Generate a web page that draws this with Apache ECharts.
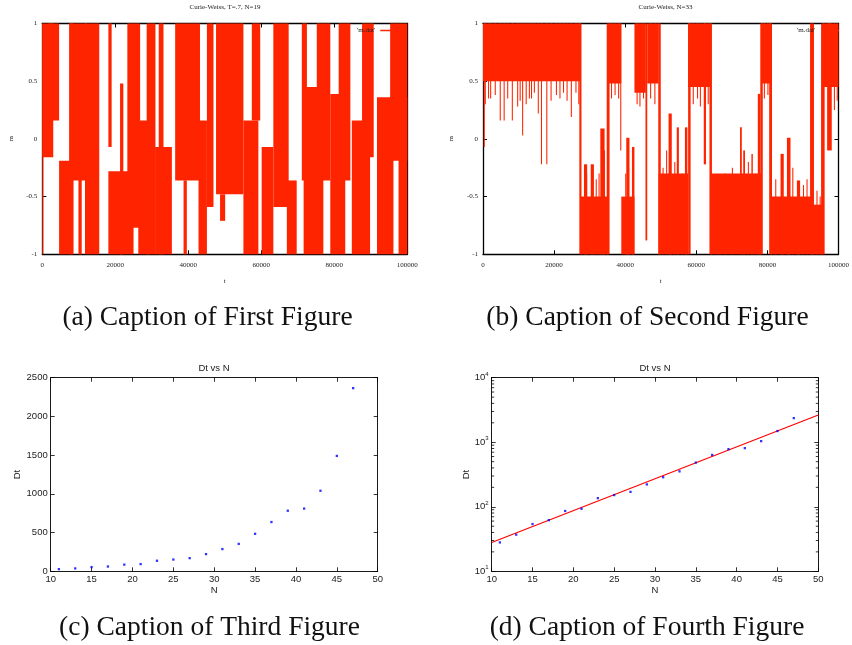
<!DOCTYPE html>
<html><head><meta charset="utf-8">
<script src="https://cdn.jsdelivr.net/npm/echarts@6/dist/echarts.min.js"></script>
<style>html,body{margin:0;padding:0;background:#fff}#c{width:852px;height:645px}</style>
</head><body><div id="c"></div>
<script>
// ---- (a) Curie-Weiss T=.7 N=19 : red blocks [t0, t1, mLow, mHigh]
const aStart = [0,0,1700,4600,7400,7400,9900,11700,18100,18100,21300,23300,26300,28600,31900,30900,36400,38700,42800,45100,47600,48700,55100,57400,60100,63300,67000,71100,71600,75200,78900,81200,84800,87600,91700,95300,97600];
const aEnd   = [300,3000,4600,8500,12200,8500,10800,15600,19000,25000,22200,26800,29500,31000,33200,35500,43200,39600,45100,46900,55100,50100,59200,59700,63300,67500,69700,72500,77000,78900,83000,84400,89800,90800,96200,100000,100000];
const aLow   = [-1,-0.16,0.16,-1,-0.36,-1,-1,-1,-0.07,-1,-1,-0.77,-1,-1,-1,-1,-0.36,-1,-1,-0.59,-0.48,-0.71,-1,0.16,-1,-0.59,-1,-0.36,-1,-0.36,-1,-0.36,-1,-0.16,-1,-0.19,-1];
const aHigh  = [1,1,1,-0.19,1,1,-0.25,1,1,-0.28,0.48,1,0.16,1,1,-0.07,1,-0.36,0.16,1,1,-0.48,0.16,1,-0.07,1,-0.36,1,0.45,1,0.39,1,0.16,1,0.36,1,0.36];

// ---- (b) Curie-Weiss N=33 : bands and transitions
const bStart = [0,27100,27500,28400,30300,33000,34800,35300,38900,40300,41900,42600,45700,46200,49300,49400,52200,54500,56800,57700,57700,62100,63700,64100,72300,73200,75500,77300,78000,78200,80500,81000,83700,85500,88300,92000,92400,95100,95600,96800];
const bEnd   = [27500,27700,35300,29300,31200,34200,35600,38900,42600,41200,42600,45800,46200,49400,50000,57700,53100,55100,57500,58400,64100,62700,64400,78200,72800,73700,75900,78000,78700,81000,81300,92400,84600,86500,89200,93100,95600,96100,100000,98100];
const bLow   = [0.5,-1,-1,-1,-1,-1,-1,0.48,-1,-1,-1,0.4,-0.88,0.48,-1,-1,-1,-1,-1,-1,0.45,-0.22,-1,-1,-1,-1,-1,-1,-1,0.48,-1,-1,-1,-1,-1,-1,-1,-1,0.45,-0.1];
const bHigh  = [1,1,-0.5,-0.22,-0.22,0.09,1,1,-0.5,0.01,-0.07,1,1,1,1,-0.3,0.22,0.1,0.1,1,1,1,1,-0.3,0.1,-0.1,-0.13,0.39,1,1,1,-0.5,-0.13,0.01,-0.36,1,-0.57,1,1,1];
// ---- (b) thin excursions (spike time, spike low, spike high)
const bSpikeT  = [200,500,1400,2000,3300,4700,5800,6800,8100,9600,10300,11000,12000,12900,13500,14300,15400,16300,17800,19000,20500,21500,22500,23500,24700,26000,26800,
                  36000,37000,38000,38600, 43200,44000,45000, 47000,48200, 59000,60200,61000,62400,63200, 79000,80000, 97300,98700,99500,
                  29000,31700,32500,34000,40000,40800,50500,51500,53800,56000,66000,68000,70000,74500,76500,82200,87000,90000,91000,93800,94700];
const bSpikeLo = [-0.07,0.3,0.35,0.35,0.38,0.16,0.16,0.35,0.16,0.28,0.33,0.03,0.3,0.35,0.35,0.4,0.22,-0.22,-0.22,0.33,0.38,0.35,0.4,0.33,0.19,0.4,0.3,
                  0.35,0.38,0.35,-0.1, 0.3,0.28,0.35, 0.35,0.3, 0.3,0.35,0.28,-0.22,0.3, 0.35,0.38, 0.3,0.25,0.33,
                  -1,-1,-1,-1,-1,-1,-1,-1,-1,-1,-1,-1,-1,-1,-1,-1,-1,-1,-1,-1,-1];
const bSpikeHi = [1,1,1,1,1,1,1,1,1,1,1,1,1,1,1,1,1,1,1,1,1,1,1,1,1,1,1,
                  1,1,1,1, 1,1,1, 1,1, 1,1,1,1,1, 1,1, 1,1,1,
                  -0.3,-0.35,-0.3,-0.1,-0.3,-0.25,-0.25,-0.1,-0.2,-0.3,-0.35,-0.3,-0.25,-0.2,-0.3,-0.35,-0.25,-0.4,-0.35,-0.45,-0.5];

// ---- (c)/(d) Dt vs N
const nVals  = [11,13,15,17,19,21,23,25,27,29,31,33,35,37,39,41,43,45,47];
const dtVals = [28,37,54,62,86,93,136,152,170,222,287,354,484,636,782,810,1040,1490,2365];
const fitN   = [10,50];
const fitDt  = [28,2640];
const logMinorTicks = [20,30,40,50,60,70,80,90,200,300,400,500,600,700,800,900,2000,3000,4000,5000,6000,7000,8000,9000];

const tTicks = {min:0, max:100000, interval:20000};
const mTicks = {min:-1, max:1, interval:0.5};
const nTicks = {min:10, max:50, interval:5};
const dtTicks = {min:0, max:2500, interval:500};

const RED = '#ff2400';
const SPIKE_W = 300;
const chart = echarts.init(document.getElementById('c'), null, {renderer:'canvas'});

const G = [
  {left:42.3, top:23.5, width:365, height:230.8},
  {left:483, top:23.5, width:365, height:230.8},
  {left:50.7, top:377.7, width:327, height:193.6},
  {left:491.7, top:377.7, width:326.6, height:193.6}
];

const gnuLabel = {fontFamily:'Liberation Serif', fontSize:7, color:'#222'};
const matLabel = {fontFamily:'Liberation Sans', fontSize:9.5, color:'#222'};
const plain = function(v){ return String(v); };

function ax(gi, pos, rng, opts){
  const gnu = gi < 2;
  const main = (pos === 'bottom' || pos === 'left');
  const o = Object.assign({
    gridIndex: gi, position: pos, type:'value',
    min: rng.min, max: rng.max, interval: rng.interval,
    axisLine:{show:true, onZero:false, lineStyle:{color:'#000', width: gnu?1.3:0.9}},
    axisTick:{show:true, inside:true, length:4, lineStyle:{color:'#000', width: gnu?1:0.8}},
    axisLabel: main ? Object.assign({show:true, formatter:plain, margin: gnu ? (pos==='bottom'?7:5) : 3, showMinLabel:true, showMaxLabel:true}, gnu?gnuLabel:matLabel) : {show:false},
    splitLine:{show:false}
  }, opts||{});
  return o;
}

function blockRender(color){
  return function(params, api){
    const p0 = api.coord([api.value(0), api.value(3)]);
    const p1 = api.coord([api.value(1), api.value(2)]);
    const cs = params.coordSys;
    const r = echarts.graphic.clipRectByRect({x:p0[0], y:p0[1], width:Math.max(p1[0]-p0[0], 1), height:p1[1]-p0[1]}, {x:cs.x, y:cs.y, width:cs.width, height:cs.height});
    if (!r) return null;
    return {type:'rect', shape:r, style:{fill:color}};
  };
}

function minorRender(params, api){
  const cs = params.coordSys;
  const p = api.coord([api.value(0), api.value(1)]);
  return {type:'group', children:[
    {type:'line', shape:{x1:cs.x, y1:p[1], x2:cs.x+2.5, y2:p[1]}, style:{stroke:'#000', lineWidth:0.8}},
    {type:'line', shape:{x1:cs.x+cs.width-2.5, y1:p[1], x2:cs.x+cs.width, y2:p[1]}, style:{stroke:'#000', lineWidth:0.8}}
  ]};
}

const aData = aStart.map((v,i)=>[v, aEnd[i], aLow[i], aHigh[i]]);
const bData = bStart.map((v,i)=>[v, bEnd[i], bLow[i], bHigh[i]])
  .concat(bSpikeT.map((t,i)=>[t, t + SPIKE_W, bSpikeLo[i], bSpikeHi[i]]));
const cData = nVals.map((n,i)=>[n, dtVals[i]]);
const fitData = fitN.map((n,i)=>[n, fitDt[i]]);
const minorData = logMinorTicks.map(v=>[10, v]);

const gnuName = {fontFamily:'Liberation Serif', fontSize:7, color:'#222'};
const matName = {fontFamily:'Liberation Sans', fontSize:9.5, color:'#222'};

const option = {
  animation:false,
  backgroundColor:'#fff',
  grid: G.map(g=>Object.assign({containLabel:false}, g)),
  legend: [
    {left:357, top:27, align:'right', itemWidth:17, itemHeight:1.5, padding:0, textStyle:{fontFamily:'Liberation Serif', fontSize:7, color:'#222'}, data:[{name:"'m.dat'", icon:'rect'}], selectedMode:false},
    {left:797, top:27, align:'right', itemWidth:17, itemHeight:1.5, padding:0, textStyle:{fontFamily:'Liberation Serif', fontSize:7, color:'#222'}, data:[{name:"'m.dat' ", icon:'rect'}], selectedMode:false}
  ],
  xAxis: [
    ax(0,'bottom',tTicks,{name:'t', nameLocation:'middle', nameGap:23, nameTextStyle:gnuName}),
    ax(0,'top',tTicks),
    ax(1,'bottom',tTicks,{name:'t', nameLocation:'middle', nameGap:23, nameTextStyle:gnuName}),
    ax(1,'top',tTicks),
    ax(2,'bottom',nTicks,{name:'N', nameLocation:'middle', nameGap:8, nameTextStyle:matName}),
    ax(2,'top',nTicks),
    ax(3,'bottom',nTicks,{name:'N', nameLocation:'middle', nameGap:8, nameTextStyle:matName}),
    ax(3,'top',nTicks)
  ],
  yAxis: [
    ax(0,'left',mTicks,{name:'m', nameLocation:'middle', nameGap:28, nameRotate:90, nameTextStyle:gnuName}),
    ax(0,'right',mTicks),
    ax(1,'left',mTicks,{name:'m', nameLocation:'middle', nameGap:28, nameRotate:90, nameTextStyle:gnuName}),
    ax(1,'right',mTicks),
    ax(2,'left',dtTicks,{name:'Dt', nameLocation:'middle', nameGap:14, nameRotate:90, nameTextStyle:matName}),
    ax(2,'right',dtTicks),
    ax(3,'left',{min:10,max:10000},{type:'log', logBase:10, interval:undefined, name:'Dt', nameLocation:'middle', nameGap:18, nameRotate:90, nameTextStyle:matName,
      axisLabel:Object.assign({show:true, margin:3, formatter:function(v){return '10{sup|'+Math.round(Math.log10(v))+'}';},
        rich:{sup:{fontFamily:'Liberation Sans', fontSize:6, color:'#222', verticalAlign:'top', padding:[0,0,7,0]}}}, matLabel)}),
    ax(3,'right',{min:10,max:10000},{type:'log', logBase:10, interval:undefined})
  ],
  series: [
    {type:'custom', name:"'m.dat'", xAxisIndex:0, yAxisIndex:0, renderItem:blockRender(RED), itemStyle:{color:RED}, data:aData, encode:{x:[0,1], y:[2,3]}, silent:true},
    {type:'custom', name:"'m.dat' ", xAxisIndex:2, yAxisIndex:2, renderItem:blockRender(RED), itemStyle:{color:RED}, data:bData, encode:{x:[0,1], y:[2,3]}, silent:true},
    {type:'scatter', xAxisIndex:4, yAxisIndex:4, symbol:'rect', symbolSize:2.3, itemStyle:{color:'#0000ff'}, data:cData, silent:true},
    {type:'line', xAxisIndex:6, yAxisIndex:6, showSymbol:false, lineStyle:{color:'#ff0000', width:1.2}, data:fitData, silent:true, z:2},
    {type:'scatter', xAxisIndex:6, yAxisIndex:6, symbol:'rect', symbolSize:2.3, itemStyle:{color:'#0000ff'}, data:cData, silent:true, z:3},
    {type:'custom', xAxisIndex:6, yAxisIndex:6, renderItem:minorRender, data:minorData, silent:true, encode:{x:0, y:1}}
  ],
  graphic: [
    {type:'text', x:225, y:7, style:{text:'Curie-Weiss, T=.7, N=19', fontFamily:'Liberation Serif', fontSize:7, fill:'#222', align:'center', verticalAlign:'middle'}},
    {type:'text', x:665.5, y:7, style:{text:'Curie-Weiss, N=33', fontFamily:'Liberation Serif', fontSize:7, fill:'#222', align:'center', verticalAlign:'middle'}},
    {type:'text', x:214, y:368, style:{text:'Dt vs N', fontFamily:'Liberation Sans', fontSize:9.5, fill:'#222', align:'center', verticalAlign:'middle'}},
    {type:'text', x:655, y:368, style:{text:'Dt vs N', fontFamily:'Liberation Sans', fontSize:9.5, fill:'#222', align:'center', verticalAlign:'middle'}},
    {type:'text', x:207.5, y:318, style:{text:'(a) Caption of First Figure', fontFamily:'Liberation Serif', fontSize:27.5, fill:'#111', align:'center', verticalAlign:'middle'}},
    {type:'text', x:647.5, y:318, style:{text:'(b) Caption of Second Figure', fontFamily:'Liberation Serif', fontSize:27.5, fill:'#111', align:'center', verticalAlign:'middle'}},
    {type:'text', x:209.5, y:628, style:{text:'(c) Caption of Third Figure', fontFamily:'Liberation Serif', fontSize:27.5, fill:'#111', align:'center', verticalAlign:'middle'}},
    {type:'text', x:647, y:628, style:{text:'(d) Caption of Fourth Figure', fontFamily:'Liberation Serif', fontSize:27.5, fill:'#111', align:'center', verticalAlign:'middle'}}
  ]
};
chart.setOption(option);
</script>
</body></html>
